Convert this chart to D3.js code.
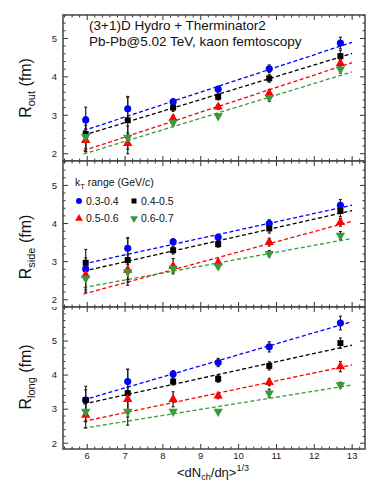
<!DOCTYPE html>
<html>
<head>
<meta charset="utf-8">
<script src="https://cdn.jsdelivr.net/npm/d3@7"></script>
<style>
  body { margin: 0; background: #fff; }
  svg { font-family: "Liberation Sans", Arial, sans-serif; }
</style>
</head>
<body>
<script>
// multiplicity axis values and kT bins
const xVals = [5.96, 7.07, 8.27, 9.46, 10.81, 12.69];
const ktRanges = ["0.3-0.4", "0.4-0.5", "0.5-0.6", "0.6-0.7"];
const fitX = [5.9, 13.0];
const xTicks = [6, 7, 8, 9, 10, 11, 12, 13];

// R_out (blue, black, red, green)
const routVals = [
  [2.88, 3.17, 3.35, 3.68, 4.21, 4.88],
  [2.51, 2.87, 3.20, 3.48, 3.96, 4.54],
  [2.35, 2.27, 2.92, 3.22, 3.57, 4.35],
  [2.44, 2.42, 2.81, 2.98, 3.46, 4.20]
];
const routErr = [
  [0.33, 0.32, 0.08, 0.07, 0.10, 0.15],
  [0.45, 0.60, 0.10, 0.08, 0.10, 0.15],
  [0.30, 0.27, 0.08, 0.06, 0.10, 0.10],
  [0.30, 0.30, 0.06, 0.05, 0.10, 0.10]
];
const routFit = [[2.60, 4.90], [2.48, 4.61], [2.08, 4.37], [1.99, 4.13]];

// R_side
const rsideVals = [
  [2.81, 3.35, 3.52, 3.64, 4.00, 4.48],
  [2.97, 3.04, 3.30, 3.46, 3.87, 4.33],
  [2.65, 2.78, 2.88, 2.97, 3.51, 4.03],
  [2.56, 2.73, 2.82, 2.88, 3.21, 3.69]
];
const rsideErr = [
  [0.20, 0.28, 0.08, 0.08, 0.10, 0.15],
  [0.35, 0.58, 0.10, 0.08, 0.12, 0.15],
  [0.45, 0.40, 0.20, 0.08, 0.10, 0.10],
  [0.30, 0.20, 0.10, 0.06, 0.08, 0.10]
];
const rsideFit = [[2.94, 4.48], [2.75, 4.34], [2.15, 4.06], [2.32, 3.61]];

// R_long
const rlongVals = [
  [3.27, 3.81, 4.03, 4.37, 4.83, 5.53],
  [3.27, 3.47, 3.81, 3.89, 4.27, 4.94],
  [2.83, 3.29, 3.29, 3.39, 3.79, 4.25],
  [2.93, 2.93, 2.93, 2.93, 3.47, 3.71]
];
const rlongErr = [
  [0.30, 0.36, 0.10, 0.12, 0.15, 0.20],
  [0.40, 0.70, 0.10, 0.10, 0.12, 0.15],
  [0.38, 0.35, 0.22, 0.08, 0.10, 0.15],
  [0.30, 0.40, 0.05, 0.05, 0.12, 0.08]
];
const rlongFit = [[3.27, 5.57], [3.15, 4.88], [2.64, 4.30], [2.44, 3.71]];

const colors = ["#0000ff", "#000000", "#ff0000", "#3a9a3a"];
const shapes = ["circle", "square", "up", "down"];

const width = 374, height = 485;
const left = 63, right = 365;

const panels = [
  {name: "out", top: 15, bottom: 161, dom: [1.81, 5.61], vals: routVals, err: routErr, fit: routFit, yt: [2, 3, 4, 5], labY: 88},
  {name: "side", top: 161, bottom: 307, dom: [1.81, 5.64], vals: rsideVals, err: rsideErr, fit: rsideFit, yt: [2, 3, 4, 5], labY: 247},
  {name: "long", top: 307, bottom: 449, dom: [1.83, 6.0], vals: rlongVals, err: rlongErr, fit: rlongFit, yt: [2, 3, 4, 5, 6], labY: 377}
];

const svg = d3.select("body").append("svg")
  .attr("width", width)
  .attr("height", height);

const x = d3.scaleLinear().domain([5.36, 13.34]).range([left, right]);

function symbolPath(shape, big) {
  let s = big ? 1 : 0.7;
  if (shape == "circle") return d3.symbol(d3.symbolCircle, 40 * s)();
  if (shape == "square") return d3.symbol(d3.symbolSquare, 36 * s)();
  return d3.symbol(d3.symbolTriangle, 38 * s)();
}

panels.forEach((p, pi) => {
  const y = d3.scaleLinear().domain(p.dom).range([p.bottom, p.top]);
  const g = svg.append("g");

  g.append("rect")
    .attr("x", left).attr("y", p.top)
    .attr("width", right - left).attr("height", p.bottom - p.top)
    .attr("fill", "#fff");

  // clip for tick labels so the top "6" is cut by the panel above
  const clipId = "clip" + pi;
  svg.append("clipPath").attr("id", clipId)
    .append("rect").attr("x", 0).attr("y", p.top).attr("width", left).attr("height", p.bottom - p.top + 12);

  // ticks inward on all four sides
  const yMinor = d3.range(Math.ceil(p.dom[0] * 5), Math.floor(p.dom[1] * 5) + 1).map(d => d / 5);
  const xMinor = d3.range(Math.ceil(5.36 * 5), Math.floor(13.34 * 5) + 1).map(d => d / 5);
  const tk = g.append("g").attr("stroke", "#333").attr("stroke-width", 1);
  yMinor.forEach(v => {
    const major = Math.abs(v - Math.round(v)) < 1e-6;
    const len = major ? 5 : 2.5;
    tk.append("line").attr("x1", left).attr("x2", left + len).attr("y1", y(v)).attr("y2", y(v));
    tk.append("line").attr("x1", right).attr("x2", right - len).attr("y1", y(v)).attr("y2", y(v));
  });
  xMinor.forEach(v => {
    const major = Math.abs(v - Math.round(v)) < 1e-6;
    const len = major ? 5 : 2.5;
    tk.append("line").attr("x1", x(v)).attr("x2", x(v)).attr("y1", p.bottom).attr("y2", p.bottom - len);
    tk.append("line").attr("x1", x(v)).attr("x2", x(v)).attr("y1", p.top).attr("y2", p.top + len);
  });

  // y tick labels
  svg.append("g").attr("clip-path", "url(#" + clipId + ")")
    .selectAll("text").data(p.yt).enter()
    .append("text")
    .attr("x", 57).attr("y", d => y(d) + 3.3)
    .attr("text-anchor", "end")
    .attr("font-size", 9.5)
    .attr("fill", "#222")
    .text(d => d);

  // fit lines
  p.fit.forEach((f, si) => {
    g.append("line")
      .attr("x1", x(fitX[0])).attr("y1", y(f[0]))
      .attr("x2", x(fitX[1])).attr("y2", y(f[1]))
      .attr("stroke", colors[si]).attr("stroke-width", 1.3)
      .attr("stroke-dasharray", "4,2.5");
  });

  // error bars
  p.vals.forEach((vals, si) => {
    vals.forEach((v, i) => {
      const e = p.err[si][i];
      const cx = x(xVals[i]);
      g.append("line").attr("x1", cx).attr("x2", cx)
        .attr("y1", y(v - e)).attr("y2", y(v + e))
        .attr("stroke", "#222").attr("stroke-width", 1.2);
      [v - e, v + e].forEach(b => {
        g.append("line").attr("x1", cx - 1.5).attr("x2", cx + 1.5)
          .attr("y1", y(b)).attr("y2", y(b))
          .attr("stroke", "#222").attr("stroke-width", 1.2);
      });
    });
  });

  // markers
  p.vals.forEach((vals, si) => {
    g.selectAll(null).data(vals).enter()
      .append("path")
      .attr("d", symbolPath(shapes[si], true))
      .attr("transform", (d, i) => "translate(" + x(xVals[i]) + "," + y(d) + ")" + (shapes[si] == "down" ? " rotate(180)" : ""))
      .attr("fill", colors[si]);
  });

  // frame
  g.append("rect")
    .attr("x", left).attr("y", p.top)
    .attr("width", right - left).attr("height", p.bottom - p.top)
    .attr("fill", "none").attr("stroke", "#444").attr("stroke-width", 1.5);

  // y axis title
  const yl = svg.append("text")
    .attr("transform", "translate(31," + p.labY + ") rotate(-90)")
    .attr("text-anchor", "middle")
    .attr("font-size", 16)
    .attr("fill", "#111");
  yl.append("tspan").text("R");
  yl.append("tspan").attr("font-size", 11).attr("dy", 4).text(p.name);
  yl.append("tspan").attr("dy", -4).text(" (fm)");
});

// x tick labels (bottom panel only)
svg.append("g").selectAll("text").data(xTicks).enter()
  .append("text")
  .attr("x", d => x(d)).attr("y", 459)
  .attr("text-anchor", "middle")
  .attr("font-size", 9.5)
  .attr("fill", "#222")
  .text(d => d);

// x axis title
const xl = svg.append("text")
  .attr("x", 213).attr("y", 477)
  .attr("text-anchor", "middle")
  .attr("font-size", 13)
  .attr("fill", "#111");
xl.append("tspan").text("<dN");
xl.append("tspan").attr("font-size", 9).attr("dy", 3).text("ch");
xl.append("tspan").attr("dy", -3).text("/d\u03b7>");
xl.append("tspan").attr("font-size", 9).attr("dy", -6).text("1/3");

// header text
svg.append("text").attr("x", 89).attr("y", 30).attr("font-size", 13.5).attr("fill", "#111")
  .text("(3+1)D Hydro + Therminator2");
svg.append("text").attr("x", 89).attr("y", 45.5).attr("font-size", 13.5).attr("fill", "#111")
  .text("Pb-Pb@5.02 TeV, kaon femtoscopy");

// legend
const lg = svg.append("g");
const lt = lg.append("text").attr("x", 75).attr("y", 186).attr("font-size", 10.5).attr("fill", "#111");
lt.append("tspan").text("k");
lt.append("tspan").attr("font-size", 7.5).attr("dy", 2.5).text("T");
lt.append("tspan").attr("dy", -2.5).text(" range (GeV/");
lt.append("tspan").attr("font-style", "italic").text("c");
lt.append("tspan").text(")");

const legPos = [[79, 201], [134, 201], [79, 218.5], [134, 218.5]];
ktRanges.forEach((r, i) => {
  lg.append("path")
    .attr("d", symbolPath(shapes[i], false))
    .attr("transform", "translate(" + legPos[i][0] + "," + legPos[i][1] + ")" + (shapes[i] == "down" ? " rotate(180)" : ""))
    .attr("fill", colors[i]);
  lg.append("text")
    .attr("x", legPos[i][0] + 7).attr("y", legPos[i][1] + 3.8)
    .attr("font-size", 10.5).attr("fill", "#111")
    .text(r);
});
</script>
</body>
</html>
